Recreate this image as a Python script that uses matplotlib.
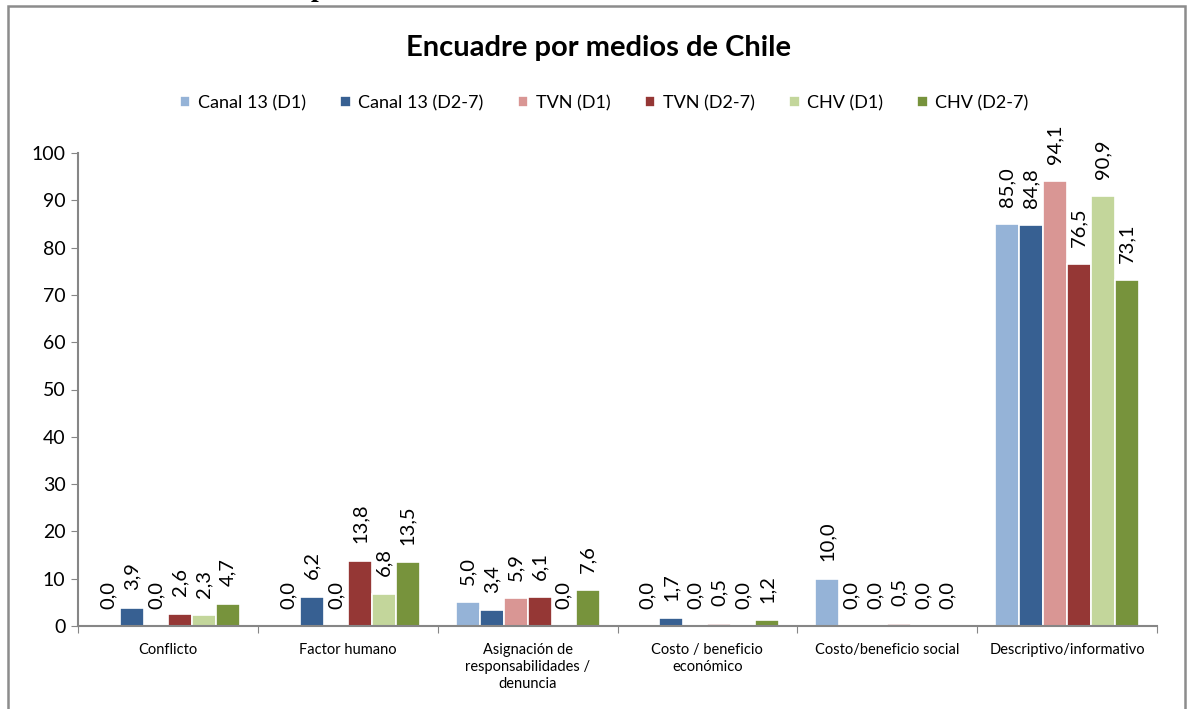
import numpy as np
import matplotlib.pyplot as plt
import matplotlib.patches as patches

categories = ['Conflicto', 'Factor humano', 'Asignación de\nresponsabilidades /\ndenuncia',
              'Costo / beneficio\neconómico', 'Costo/beneficio social', 'Descriptivo/informativo']
series_names = ['Canal 13 (D1)', 'Canal 13 (D2-7)', 'TVN (D1)', 'TVN (D2-7)', 'CHV (D1)', 'CHV (D2-7)']
canal13_d1 = [0.0, 0.0, 5.0, 0.0, 10.0, 85.0]
canal13_d27 = [3.9, 6.2, 3.4, 1.7, 0.0, 84.8]
tvn_d1 = [0.0, 0.0, 5.9, 0.0, 0.0, 94.1]
tvn_d27 = [2.6, 13.8, 6.1, 0.5, 0.5, 76.5]
chv_d1 = [2.3, 6.8, 0.0, 0.0, 0.0, 90.9]
chv_d27 = [4.7, 13.5, 7.6, 1.2, 0.0, 73.1]
colors = ['#95B3D7', '#376092', '#D99694', '#953735', '#C3D69B', '#77933C']

all_series = [canal13_d1, canal13_d27, tvn_d1, tvn_d27, chv_d1, chv_d27]

plt.rcParams['font.family'] = ['Lato', 'DejaVu Sans']

fig = plt.figure(figsize=(11.88, 7.09), dpi=100)
ax = fig.add_axes([78 / 1188, 83 / 709, 1079 / 1188, 473 / 709])

x = np.arange(len(categories))
pitch = 24 / 180
for i, (vals, name, c) in enumerate(zip(all_series, series_names, colors)):
    pos = x + (i - 2.5) * pitch
    ax.bar(pos, vals, width=pitch, color=c, edgecolor='white', linewidth=1.2, label=name)
    for xp, v in zip(pos, vals):
        ax.annotate(f'{v:.1f}'.replace('.', ','), (xp, v), xytext=(0, 12.5), textcoords='offset points',
                    rotation=90, ha='center', va='bottom', fontsize=14.5)

ax.set_xlim(-0.5, len(categories) - 0.5)
ax.set_ylim(0, 100)
ax.set_yticks(range(0, 101, 10))
ax.tick_params(axis='y', labelsize=14, length=5, color='#868686', direction='out', pad=4)
ax.set_xticks(np.arange(-0.5, len(categories), 1))
ax.set_xticklabels([])
ax.set_xticks(x, minor=True)
ax.set_xticklabels(categories, minor=True, fontsize=10.5, linespacing=1.3, va='top')
ax.tick_params(axis='x', which='major', length=5, color='#868686')
ax.tick_params(axis='x', which='minor', length=0, pad=12)
for s in ['top', 'right']:
    ax.spines[s].set_visible(False)
for s in ['left', 'bottom']:
    ax.spines[s].set_color('#868686')
    ax.spines[s].set_linewidth(1.5)

fig.text(598 / 1188, 1 - 48 / 709, 'Encuadre por medios de Chile', ha='center', va='center',
         fontsize=21, fontweight='bold')
fig.legend(loc='center', bbox_to_anchor=(604 / 1188, 1 - 103 / 709), ncol=6, frameon=False,
           fontsize=13, handlelength=0.6, handleheight=0.6, handletextpad=0.4, columnspacing=1.9)

# chart frame and clipped text from the page above
fig.patches.append(patches.Rectangle((8 / 1188, -0.05), 1177 / 1188, 0.05 + 703 / 709,
                                     transform=fig.transFigure, fill=False,
                                     edgecolor='#8C8C8C', linewidth=1.8))
fig.text(318 / 1188, 1.005, 'p', ha='center', va='baseline', fontsize=20, fontweight='bold',
         family='Liberation Serif')

fig.savefig('out.png', dpi=100)
